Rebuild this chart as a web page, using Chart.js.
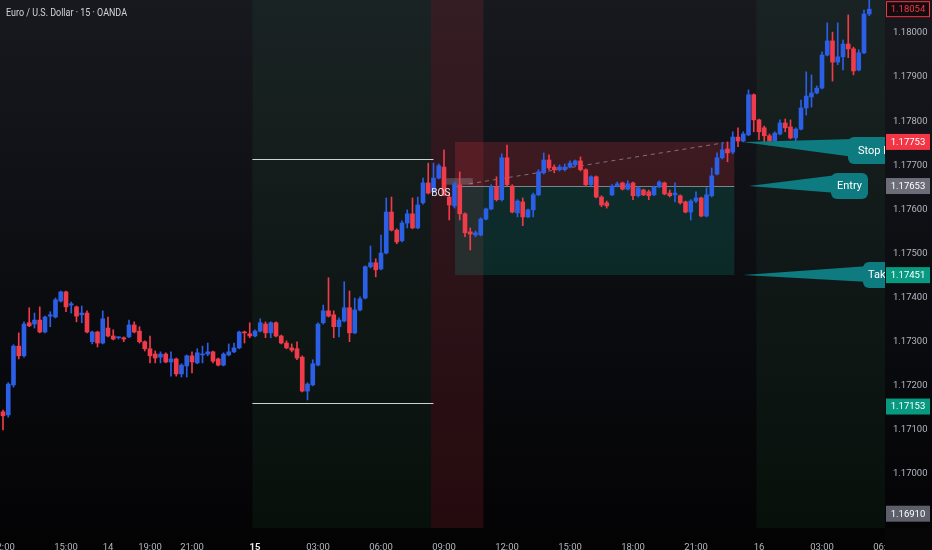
<!DOCTYPE html>
<html>
<head>
<meta charset="utf-8">
<script src="https://cdn.jsdelivr.net/npm/chart.js@4.4.1/dist/chart.umd.min.js"></script>
<style>
  html, body { margin: 0; padding: 0; background: #0b0c0f; overflow: hidden; }
</style>
</head>
<body>
<canvas id="chart" width="932" height="550"></canvas>
<script>
// EUR/USD 15m candles (index 0 = 12:00 on the 13th)
const open = [1.17141,1.17134,1.17202,1.17290,1.17268,1.17343,1.17340,1.17349,1.17322,1.17358,1.17356,1.17392,1.17413,1.17383,1.17379,1.17361,1.17365,1.17300,1.17322,1.17297,
  1.17331,1.17313,1.17309,1.17309,1.17311,1.17338,1.17324,1.17300,1.17284,1.17272,1.17265,1.17272,1.17254,1.17261,1.17227,1.17245,1.17268,1.17252,1.17270,1.17272,
  1.17277,1.17261,1.17247,1.17270,1.17277,1.17286,1.17322,1.17318,1.17313,1.17324,1.17340,1.17320,1.17343,1.17313,1.17297,1.17286,1.17284,1.17265,1.17188,1.17202,
  1.17247,1.17343,1.17370,1.17361,1.17334,1.17347,1.17377,1.17320,1.17372,1.17399,1.17470,1.17479,1.17465,1.17501,1.17594,1.17553,1.17529,1.17569,1.17590,1.17558,
  1.17615,1.17660,1.17640,1.17671,1.17696,1.17628,1.17608,1.17656,1.17590,1.17549,1.17542,1.17542,1.17578,1.17601,1.17651,1.17622,1.17717,1.17653,1.17592,1.17617,
  1.17583,1.17599,1.17633,1.17683,1.17712,1.17696,1.17690,1.17690,1.17696,1.17701,1.17710,1.17690,1.17656,1.17674,1.17628,1.17615,1.17633,1.17653,1.17660,1.17646,
  1.17660,1.17631,1.17644,1.17640,1.17633,1.17651,1.17660,1.17637,1.17633,1.17631,1.17617,1.17594,1.17619,1.17626,1.17585,1.17631,1.17680,1.17717,1.17737,1.17730,
  1.17764,1.17755,1.17769,1.17860,1.17803,1.17785,1.17767,1.17755,1.17771,1.17796,1.17787,1.17762,1.17782,1.17830,1.17855,1.17864,1.17875,1.17950,1.17982,1.17934,
  1.17946,1.17975,1.17964,1.17916,1.17955,1.18043];
const high = [1.17145,1.17207,1.17293,1.17320,1.17345,1.17377,1.17365,1.17379,1.17358,1.17368,1.17399,1.17415,1.17415,1.17390,1.17381,1.17381,1.17370,1.17324,1.17324,1.17370,
  1.17356,1.17327,1.17311,1.17311,1.17349,1.17345,1.17334,1.17302,1.17313,1.17279,1.17277,1.17275,1.17277,1.17263,1.17250,1.17270,1.17277,1.17284,1.17290,1.17297,
  1.17279,1.17263,1.17275,1.17295,1.17297,1.17324,1.17324,1.17343,1.17327,1.17352,1.17345,1.17345,1.17345,1.17315,1.17302,1.17295,1.17300,1.17268,1.17207,1.17259,
  1.17343,1.17383,1.17445,1.17370,1.17354,1.17436,1.17415,1.17399,1.17402,1.17472,1.17517,1.17488,1.17542,1.17626,1.17628,1.17556,1.17574,1.17599,1.17626,1.17628,
  1.17671,1.17705,1.17705,1.17703,1.17735,1.17637,1.17662,1.17685,1.17592,1.17558,1.17551,1.17581,1.17603,1.17656,1.17674,1.17726,1.17746,1.17656,1.17622,1.17626,
  1.17601,1.17637,1.17690,1.17728,1.17724,1.17701,1.17701,1.17703,1.17710,1.17712,1.17719,1.17692,1.17676,1.17676,1.17631,1.17619,1.17656,1.17662,1.17662,1.17665,
  1.17662,1.17651,1.17646,1.17644,1.17653,1.17665,1.17662,1.17644,1.17660,1.17633,1.17619,1.17622,1.17640,1.17628,1.17649,1.17694,1.17728,1.17751,1.17753,1.17776,
  1.17785,1.17776,1.17871,1.17862,1.17805,1.17789,1.17771,1.17776,1.17803,1.17805,1.17803,1.17785,1.17848,1.17912,1.17905,1.17880,1.17957,1.18023,1.18002,1.18023,
  1.17984,1.18041,1.17968,1.17962,1.18052,1.18075];
const low = [1.17100,1.17129,1.17197,1.17261,1.17265,1.17334,1.17331,1.17320,1.17320,1.17334,1.17354,1.17390,1.17368,1.17365,1.17345,1.17343,1.17320,1.17295,1.17288,1.17295,
  1.17311,1.17304,1.17306,1.17300,1.17309,1.17320,1.17297,1.17279,1.17252,1.17252,1.17252,1.17252,1.17222,1.17222,1.17220,1.17220,1.17229,1.17250,1.17252,1.17268,
  1.17252,1.17245,1.17245,1.17268,1.17275,1.17284,1.17297,1.17309,1.17311,1.17322,1.17309,1.17309,1.17311,1.17295,1.17284,1.17277,1.17259,1.17186,1.17168,1.17200,
  1.17245,1.17340,1.17356,1.17309,1.17311,1.17345,1.17300,1.17318,1.17370,1.17397,1.17467,1.17447,1.17463,1.17499,1.17551,1.17522,1.17526,1.17558,1.17556,1.17556,
  1.17612,1.17635,1.17637,1.17669,1.17631,1.17576,1.17603,1.17576,1.17538,1.17508,1.17538,1.17540,1.17576,1.17599,1.17619,1.17619,1.17653,1.17592,1.17583,1.17563,
  1.17581,1.17583,1.17631,1.17680,1.17690,1.17683,1.17687,1.17687,1.17694,1.17699,1.17687,1.17653,1.17653,1.17626,1.17606,1.17603,1.17631,1.17651,1.17644,1.17644,
  1.17622,1.17628,1.17631,1.17622,1.17631,1.17649,1.17633,1.17628,1.17617,1.17612,1.17592,1.17576,1.17615,1.17583,1.17583,1.17628,1.17678,1.17714,1.17708,1.17726,
  1.17742,1.17753,1.17767,1.17776,1.17758,1.17753,1.17746,1.17753,1.17769,1.17776,1.17760,1.17746,1.17780,1.17814,1.17832,1.17862,1.17873,1.17948,1.17891,1.17928,
  1.17916,1.17944,1.17905,1.17914,1.17953,1.18039];
const close = [1.17132,1.17204,1.17290,1.17268,1.17340,1.17336,1.17349,1.17322,1.17356,1.17361,1.17395,1.17413,1.17379,1.17386,1.17358,1.17365,1.17322,1.17322,1.17297,1.17352,
  1.17313,1.17306,1.17309,1.17306,1.17338,1.17322,1.17300,1.17284,1.17268,1.17263,1.17272,1.17254,1.17261,1.17227,1.17247,1.17268,1.17254,1.17275,1.17272,1.17277,
  1.17256,1.17247,1.17272,1.17277,1.17286,1.17322,1.17320,1.17313,1.17324,1.17343,1.17320,1.17343,1.17313,1.17297,1.17286,1.17281,1.17263,1.17188,1.17204,1.17250,
  1.17340,1.17370,1.17358,1.17334,1.17349,1.17377,1.17320,1.17372,1.17397,1.17470,1.17479,1.17463,1.17501,1.17594,1.17553,1.17526,1.17569,1.17590,1.17558,1.17610,
  1.17660,1.17637,1.17671,1.17699,1.17633,1.17610,1.17658,1.17590,1.17547,1.17544,1.17547,1.17578,1.17601,1.17651,1.17622,1.17717,1.17656,1.17594,1.17619,1.17583,
  1.17599,1.17633,1.17685,1.17712,1.17694,1.17690,1.17696,1.17696,1.17705,1.17710,1.17690,1.17656,1.17674,1.17628,1.17610,1.17608,1.17653,1.17658,1.17646,1.17658,
  1.17631,1.17649,1.17633,1.17631,1.17651,1.17662,1.17635,1.17631,1.17637,1.17615,1.17594,1.17619,1.17626,1.17585,1.17633,1.17676,1.17717,1.17735,1.17728,1.17764,
  1.17755,1.17771,1.17860,1.17803,1.17776,1.17767,1.17755,1.17773,1.17796,1.17785,1.17762,1.17782,1.17830,1.17857,1.17864,1.17875,1.17950,1.17982,1.17934,1.17946,
  1.17975,1.17964,1.17914,1.17955,1.18043,1.18054];

// axis ticks
const timeTickIdx = [0, 12, 20, 28, 36, 48, 60, 72, 84, 96, 108, 120, 132, 144, 156, 168];
const timeTickLabels = ['12:00', '15:00', '14', '19:00', '21:00', '15', '03:00', '06:00', '09:00', '12:00', '15:00', '18:00', '21:00', '16', '03:00', '06:00'];
const priceTicks = [1.169, 1.170, 1.171, 1.172, 1.173, 1.174, 1.175, 1.176, 1.177, 1.178, 1.179, 1.180];

// drawing tool levels
const stopPrice = 1.17753;
const entryPrice = 1.17653;
const targetPrice = 1.17451;
const lastPrice = 1.18054;
const rangeHigh = 1.17714;
const rangeLow = 1.17161;
const markerPrice = 1.17153;
const bottomPrice = 1.16910;

const UP = '#2b5fe6';
const DOWN = '#ef3b4a';
const FONT = 'Roboto, "Liberation Sans", sans-serif';

const idx = open.map((_, i) => i);
const candleColors = idx.map(i => close[i] >= open[i] ? UP : DOWN);

function roundRect(ctx, x, y, w, h, r) {
  ctx.beginPath();
  ctx.moveTo(x + r, y);
  ctx.arcTo(x + w, y, x + w, y + h, r);
  ctx.arcTo(x + w, y + h, x, y + h, r);
  ctx.arcTo(x, y + h, x, y, r);
  ctx.arcTo(x, y, x + w, y, r);
  ctx.closePath();
}

// teal label with a long pointer towards the price level
function callout(ctx, tip, box, baseTop, baseBot, text, tx, align) {
  ctx.fillStyle = '#0e7b80';
  ctx.beginPath();
  ctx.moveTo(tip[0], tip[1]);
  ctx.lineTo(box.x + 6, baseTop);
  ctx.lineTo(box.x + 6, baseBot);
  ctx.closePath();
  ctx.fill();
  roundRect(ctx, box.x, box.y, box.w, box.h, 6);
  ctx.fill();
  ctx.fillStyle = '#ffffff';
  ctx.font = '11px ' + FONT;
  ctx.textAlign = align;
  ctx.textBaseline = 'middle';
  ctx.fillText(text, tx, box.y + box.h / 2 + 0.5);
}

const tvPlugin = {
  id: 'tvDrawings',
  beforeDraw(chart) {
    const { ctx, width, height } = chart;
    const g = ctx.createLinearGradient(0, 0, 0, height);
    g.addColorStop(0, '#17191f');
    g.addColorStop(0.55, '#0b0c10');
    g.addColorStop(1, '#030304');
    ctx.save();
    ctx.fillStyle = g;
    ctx.fillRect(0, 0, width, height);
    ctx.restore();
  },
  beforeDatasetsDraw(chart) {
    const { ctx, chartArea: a, scales: { x, y } } = chart;
    const px = v => x.getPixelForValue(v);
    const py = v => y.getPixelForValue(v);
    ctx.save();
    ctx.beginPath();
    ctx.rect(a.left, a.top, a.right - a.left, a.bottom - a.top);
    ctx.clip();

    // session backgrounds
    [[47.5, 81.5, 'rgba(60,140,80,0.09)'], [81.5, 91.5, 'rgba(242,54,69,0.14)'], [143.5, 200, 'rgba(60,140,80,0.09)']]
      .forEach(([f, t, c]) => {
        ctx.fillStyle = c;
        ctx.fillRect(px(f), a.top, px(t) - px(f), a.bottom - a.top);
      });

    // long position tool
    const x0 = px(86.1), x1 = px(139.3);
    ctx.fillStyle = 'rgba(242,54,69,0.20)';
    ctx.fillRect(x0, py(stopPrice), x1 - x0, py(entryPrice) - py(stopPrice));
    ctx.fillStyle = 'rgba(8,153,129,0.20)';
    ctx.fillRect(x0, py(entryPrice), x1 - x0, py(targetPrice) - py(entryPrice));
    ctx.strokeStyle = 'rgba(170,172,180,0.7)';
    ctx.lineWidth = 1;
    ctx.beginPath();
    ctx.moveTo(x0, Math.round(py(entryPrice)) + 0.5);
    ctx.lineTo(x1, Math.round(py(entryPrice)) + 0.5);
    ctx.stroke();

    ctx.setLineDash([4, 4]);
    ctx.strokeStyle = 'rgba(170,172,180,0.6)';
    ctx.beginPath();
    ctx.moveTo(px(88.8), py(1.17658));
    ctx.lineTo(px(137.3), py(1.17751));
    ctx.stroke();
    ctx.setLineDash([]);

    // range high / low lines
    ctx.strokeStyle = '#cfd0d4';
    [rangeHigh, rangeLow].forEach(p => {
      const yy = Math.round(py(p)) + 0.5;
      ctx.beginPath();
      ctx.moveTo(px(47.5), yy);
      ctx.lineTo(px(82), yy);
      ctx.stroke();
    });

    // BOS label backdrop
    ctx.fillStyle = 'rgba(150,150,160,0.35)';
    ctx.fillRect(px(83.6), py(1.17671), px(89.5) - px(83.6), py(1.17656) - py(1.17671));
    ctx.restore();
  },
  afterDatasetsDraw(chart) {
    const { ctx, chartArea: a, scales: { x, y } } = chart;
    ctx.save();
    ctx.beginPath();
    ctx.rect(a.left, a.top, a.right - a.left, a.bottom - a.top);
    ctx.clip();
    ctx.fillStyle = '#e6e6e6';
    ctx.font = '10px ' + FONT;
    ctx.textAlign = 'center';
    ctx.textBaseline = 'middle';
    ctx.fillText('BOS', x.getPixelForValue(83.4), y.getPixelForValue(1.17637));

    const R = a.right;
    callout(ctx, [743, y.getPixelForValue(stopPrice)], { x: R - 37, y: 137, w: 70, h: 27 }, 139, 157, 'Stop loss', R - 27, 'left');
    callout(ctx, [749, y.getPixelForValue(entryPrice)], { x: R - 54, y: 173, w: 37, h: 26 }, 175, 193, 'Entry', R - 35.5, 'center');
    callout(ctx, [743, y.getPixelForValue(targetPrice)], { x: R - 22, y: 262, w: 70, h: 26 }, 266, 282, 'Take profit', R - 17, 'left');
    ctx.restore();
  },
  afterDraw(chart) {
    const { ctx, chartArea: a, width, height, scales: { y } } = chart;
    ctx.save();
    // cover the bottom-right corner under the price scale
    ctx.fillStyle = '#060607';
    ctx.fillRect(a.right, a.bottom, width - a.right, height - a.bottom);

    // price tags on the axis
    const tags = [
      [lastPrice, 'rgba(20,10,12,0.9)', '#f23645', '#f23645'],
      [stopPrice, '#f23645', null, '#ffffff'],
      [entryPrice, '#6b6e78', null, '#ffffff'],
      [targetPrice, '#089981', null, '#ffffff'],
      [markerPrice, '#089981', null, '#ffffff'],
      [bottomPrice, '#5d606b', null, '#ffffff']
    ];
    ctx.font = '9.5px ' + FONT;
    ctx.textAlign = 'center';
    ctx.textBaseline = 'middle';
    tags.forEach(([p, fill, stroke, color]) => {
      const yy = Math.max(9, y.getPixelForValue(p));
      ctx.fillStyle = fill;
      ctx.fillRect(a.right + 1, yy - 8, 44, 16);
      if (stroke) {
        ctx.strokeStyle = stroke;
        ctx.lineWidth = 1;
        ctx.strokeRect(a.right + 1.5, yy - 7.5, 43, 15);
      }
      ctx.fillStyle = color;
      ctx.fillText(p.toFixed(5), a.right + 23, yy + 0.5);
    });

    // symbol title
    ctx.fillStyle = '#d1d4dc';
    ctx.font = '10px ' + FONT;
    ctx.textAlign = 'left';
    ctx.textBaseline = 'middle';
    const title = 'Euro / U.S. Dollar · 15 · OANDA';
    const w = ctx.measureText(title).width;
    ctx.translate(6, 13);
    ctx.scale(Math.min(1, 121 / w), 1);
    ctx.fillText(title, 0, 0);
    ctx.restore();
  }
};

new Chart(document.getElementById('chart'), {
  type: 'bar',
  data: {
    datasets: [
      {
        label: 'Wicks',
        data: idx.map(i => ({ x: i, y: [low[i], high[i]] })),
        backgroundColor: candleColors,
        barThickness: 1,
        grouped: false,
        order: 2
      },
      {
        label: 'Bodies',
        data: idx.map(i => ({ x: i, y: [open[i], close[i]] })),
        backgroundColor: candleColors,
        barThickness: 4,
        minBarLength: 1,
        grouped: false,
        order: 1
      }
    ]
  },
  options: {
    responsive: false,
    animation: false,
    layout: { padding: 0 },
    plugins: { legend: { display: false }, tooltip: { enabled: false } },
    scales: {
      x: {
        type: 'linear',
        min: -0.57,
        max: 168,
        offset: false,
        grid: { display: false },
        border: { display: false },
        afterBuildTicks: s => { s.ticks = timeTickIdx.map(v => ({ value: v })); },
        afterFit: s => { s.height = 22; s.paddingLeft = 0; s.paddingRight = 0; },
        ticks: {
          autoSkip: false,
          maxRotation: 0,
          padding: 6,
          color: ctx => ctx.tick && ctx.tick.value === 48 ? '#e8e9ee' : '#b2b5be',
          font: ctx => ({ family: FONT, size: 9.5, weight: ctx.tick && ctx.tick.value === 48 ? 'bold' : 'normal' }),
          callback: (v, i) => timeTickLabels[i]
        }
      },
      y: {
        position: 'right',
        min: 1.168776,
        max: 1.180748,
        grid: { display: false, drawTicks: false },
        border: { display: false },
        afterBuildTicks: s => { s.ticks = priceTicks.map(v => ({ value: v })); },
        afterFit: s => { s.width = 47; s.paddingTop = 0; s.paddingBottom = 0; },
        ticks: {
          padding: 8,
          color: '#b2b5be',
          font: { family: FONT, size: 9.5 },
          callback: v => v.toFixed(5)
        }
      }
    }
  },
  plugins: [tvPlugin]
});
</script>
</body>
</html>
